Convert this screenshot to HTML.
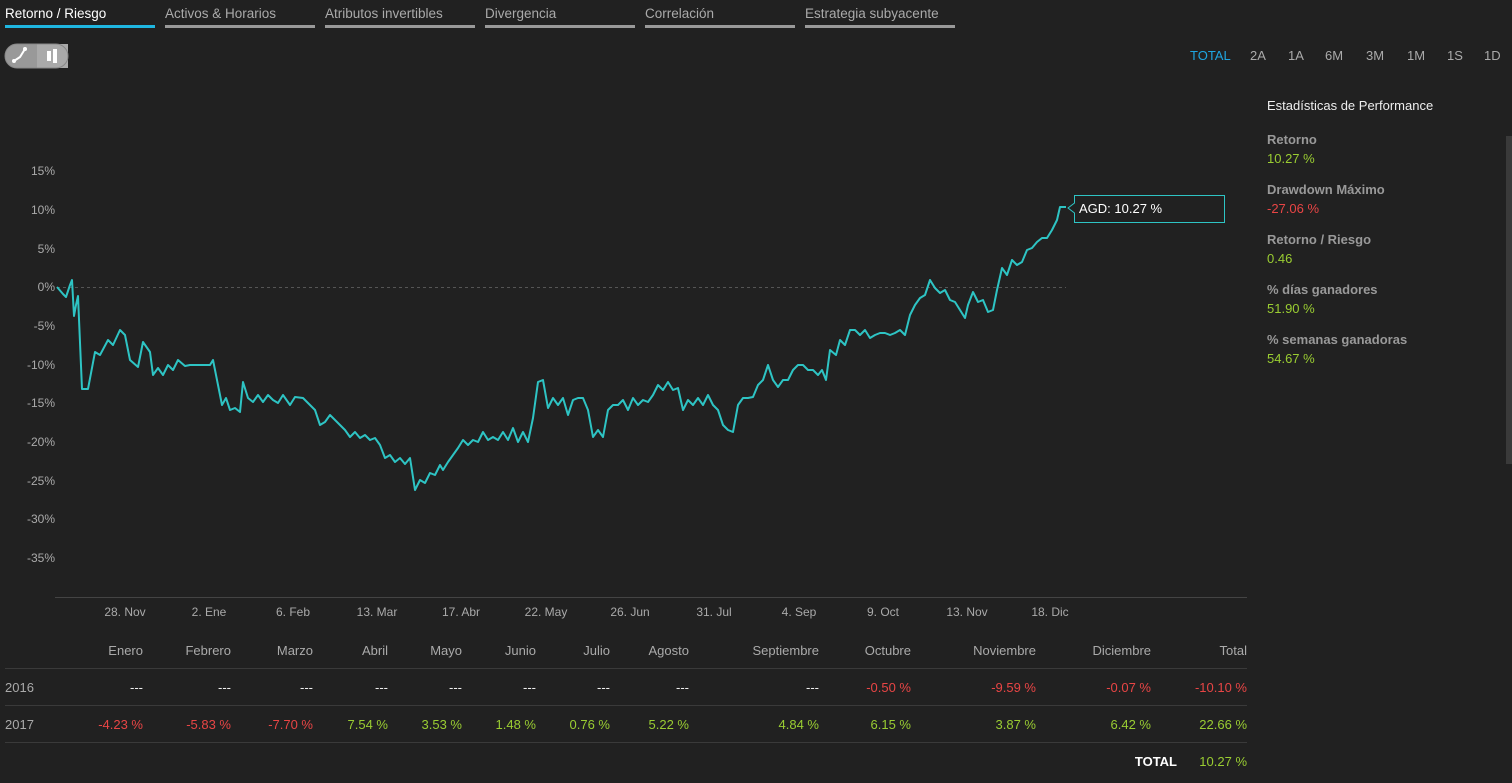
<!DOCTYPE html>
<html><head><meta charset="utf-8"><style>
body{margin:0;width:1512px;height:778px;background:#212121;overflow:hidden;font-family:"Liberation Sans",sans-serif;color:#aaa}
svg text{font-family:"Liberation Sans",sans-serif}
</style></head><body>
<svg width="1512" height="778" xmlns="http://www.w3.org/2000/svg">
<g font-size="13.5" fill="#aaa">
<text x="5" y="18" fill="#fff">Retorno / Riesgo</text>
<rect x="5" y="25" width="150" height="3" fill="#1fb6e0"/>
<text x="165" y="18">Activos &amp; Horarios</text><rect x="165" y="25" width="150" height="3" fill="#999"/>
<text x="325" y="18">Atributos invertibles</text><rect x="325" y="25" width="150" height="3" fill="#999"/>
<text x="485" y="18">Divergencia</text><rect x="485" y="25" width="150" height="3" fill="#999"/>
<text x="645" y="18">Correlación</text><rect x="645" y="25" width="150" height="3" fill="#999"/>
<text x="805" y="18">Estrategia subyacente</text><rect x="805" y="25" width="150" height="3" fill="#999"/>
</g>
<rect x="5" y="44" width="63" height="24" rx="12" fill="#999"/>
<rect x="37" y="44" width="31" height="24" fill="#aaa"/>
<rect x="5" y="44" width="63" height="24" rx="12" fill="none" stroke="#888"/>
<path d="M14 61 L20 57 L25 49" stroke="#fff" stroke-width="2" fill="none"/>
<circle cx="14" cy="61" r="2" fill="#fff"/><circle cx="25" cy="49" r="2" fill="#fff"/>
<rect x="47" y="51" width="4" height="10" fill="#fff"/><rect x="53" y="49" width="4" height="14" fill="#fff"/>
<g font-size="13" fill="#aaa">
<text x="1190" y="60" fill="#1fa5e0">TOTAL</text>
<text x="1250" y="60">2A</text><text x="1288" y="60">1A</text><text x="1325" y="60">6M</text>
<text x="1366" y="60">3M</text><text x="1407" y="60">1M</text><text x="1447" y="60">1S</text><text x="1484" y="60">1D</text>
</g>
<rect x="1506" y="136" width="6" height="328" fill="#3a3a3a"/>
<g font-size="13">
<text x="1267" y="110" fill="#eee">Estadísticas de Performance</text>
<text x="1267" y="144" fill="#999" font-weight="bold">Retorno</text><text x="1267" y="163" fill="#9acd32">10.27 %</text>
<text x="1267" y="194" fill="#999" font-weight="bold">Drawdown Máximo</text><text x="1267" y="213" fill="#e84545">-27.06 %</text>
<text x="1267" y="244" fill="#999" font-weight="bold">Retorno / Riesgo</text><text x="1267" y="263" fill="#9acd32">0.46</text>
<text x="1267" y="294" fill="#999" font-weight="bold">% días ganadores</text><text x="1267" y="313" fill="#9acd32">51.90 %</text>
<text x="1267" y="344" fill="#999" font-weight="bold">% semanas ganadoras</text><text x="1267" y="363" fill="#9acd32">54.67 %</text>
</g>
<g font-size="12" fill="#aaa" text-anchor="end">
<text x="55" y="175">15%</text><text x="55" y="214">10%</text><text x="55" y="253">5%</text><text x="55" y="291">0%</text>
<text x="55" y="330">-5%</text><text x="55" y="369">-10%</text><text x="55" y="407">-15%</text><text x="55" y="446">-20%</text>
<text x="55" y="485">-25%</text><text x="55" y="523">-30%</text><text x="55" y="562">-35%</text>
</g>
<line x1="57" y1="287.5" x2="1066" y2="287.5" stroke="#555" stroke-dasharray="3,3"/>
<line x1="55" y1="597.5" x2="1247" y2="597.5" stroke="#444"/>
<g font-size="12" fill="#aaa" text-anchor="middle">
<text x="125" y="616">28. Nov</text><text x="209" y="616">2. Ene</text><text x="293" y="616">6. Feb</text><text x="377" y="616">13. Mar</text>
<text x="461" y="616">17. Abr</text><text x="546" y="616">22. May</text><text x="630" y="616">26. Jun</text><text x="714" y="616">31. Jul</text>
<text x="799" y="616">4. Sep</text><text x="883" y="616">9. Oct</text><text x="967" y="616">13. Nov</text><text x="1050" y="616">18. Dic</text>
</g>
<polyline fill="none" stroke="#2ec4c4" stroke-width="2" stroke-linejoin="round" points="57,287 63,294 66,297 70,285 72,280 74,316 76,305 78,296 82,389 88,389 95,352 100,355 108,340 113,345 120,330 125,335 130,360 138,367 143,342 150,352 153,375 158,368 163,375 168,365 173,370 178,360 185,366 190,365 200,365 210,365 213,360 218,385 222,405 226,398 230,410 235,408 240,412 243,382 248,398 253,402 258,395 263,402 268,395 273,400 278,403 283,395 290,405 295,397 303,398 310,405 315,410 320,425 325,422 330,415 335,420 340,425 345,430 350,437 355,432 360,438 365,435 370,440 375,438 380,445 385,458 390,455 395,462 400,458 405,464 410,458 415,490 420,480 425,483 430,473 435,475 440,465 443,470 448,462 453,455 458,448 463,440 468,445 473,440 478,442 483,432 488,440 493,437 498,440 503,432 508,440 513,428 518,442 523,432 528,442 533,418 538,382 543,380 548,408 553,398 558,405 563,398 568,415 573,400 578,398 583,398 588,410 593,437 598,430 603,437 608,410 613,405 618,405 623,400 628,410 633,398 638,405 643,400 648,402 653,395 658,385 663,390 668,382 673,390 678,388 683,410 688,400 693,405 698,398 703,405 708,395 713,405 718,410 723,425 728,430 733,432 738,405 743,398 748,398 753,397 758,385 763,380 768,365 773,380 778,387 783,380 788,380 793,370 798,365 803,365 808,370 813,370 818,375 822,370 826,380 830,350 836,355 840,340 845,345 850,330 855,330 860,335 865,330 870,338 875,335 880,333 885,333 890,335 895,333 900,330 905,335 910,315 915,305 920,298 925,295 930,280 935,288 940,293 945,290 950,300 955,302 960,310 965,318 968,305 973,292 978,302 983,300 988,312 993,310 997,290 1002,268 1007,275 1012,260 1017,265 1022,262 1027,250 1032,248 1037,242 1042,238 1047,238 1052,230 1057,220 1060,207 1066,207"/>
<path d="M1074.5 195.5 H1224.5 V222.5 H1074.5 V213 L1068 208 L1074.5 203 Z" fill="#212121" stroke="#2ec4c4"/>
<text x="1079" y="213" font-size="13" fill="#fff">AGD: 10.27 %</text>
<g stroke="#3a3a3a"><line x1="5" y1="668.5" x2="1247" y2="668.5"/><line x1="5" y1="705.5" x2="1247" y2="705.5"/><line x1="5" y1="742.5" x2="1247" y2="742.5"/></g>
<g font-size="13" text-anchor="end" fill="#aaa">
<text x="143" y="655">Enero</text><text x="231" y="655">Febrero</text><text x="313" y="655">Marzo</text><text x="388" y="655">Abril</text>
<text x="462" y="655">Mayo</text><text x="536" y="655">Junio</text><text x="610" y="655">Julio</text><text x="689" y="655">Agosto</text>
<text x="819" y="655">Septiembre</text><text x="911" y="655">Octubre</text><text x="1036" y="655">Noviembre</text><text x="1151" y="655">Diciembre</text><text x="1247" y="655">Total</text>
</g>
<g font-size="13" text-anchor="end">
<text x="5" y="692" text-anchor="start" fill="#aaa">2016</text>
<g fill="#eee"><text x="143" y="692">---</text><text x="231" y="692">---</text><text x="313" y="692">---</text><text x="388" y="692">---</text><text x="462" y="692">---</text><text x="536" y="692">---</text><text x="610" y="692">---</text><text x="689" y="692">---</text><text x="819" y="692">---</text></g>
<g fill="#e84545"><text x="911" y="692">-0.50 %</text><text x="1036" y="692">-9.59 %</text><text x="1151" y="692">-0.07 %</text><text x="1247" y="692">-10.10 %</text></g>
<text x="5" y="729" text-anchor="start" fill="#aaa">2017</text>
<g fill="#e84545"><text x="143" y="729">-4.23 %</text><text x="231" y="729">-5.83 %</text><text x="313" y="729">-7.70 %</text></g>
<g fill="#9acd32"><text x="388" y="729">7.54 %</text><text x="462" y="729">3.53 %</text><text x="536" y="729">1.48 %</text><text x="610" y="729">0.76 %</text><text x="689" y="729">5.22 %</text><text x="819" y="729">4.84 %</text><text x="911" y="729">6.15 %</text><text x="1036" y="729">3.87 %</text><text x="1151" y="729">6.42 %</text><text x="1247" y="729">22.66 %</text></g>
<text x="1177" y="766" fill="#fff" font-weight="bold">TOTAL</text>
<text x="1247" y="766" fill="#9acd32">10.27 %</text>
</g>
</svg>
</body></html>
